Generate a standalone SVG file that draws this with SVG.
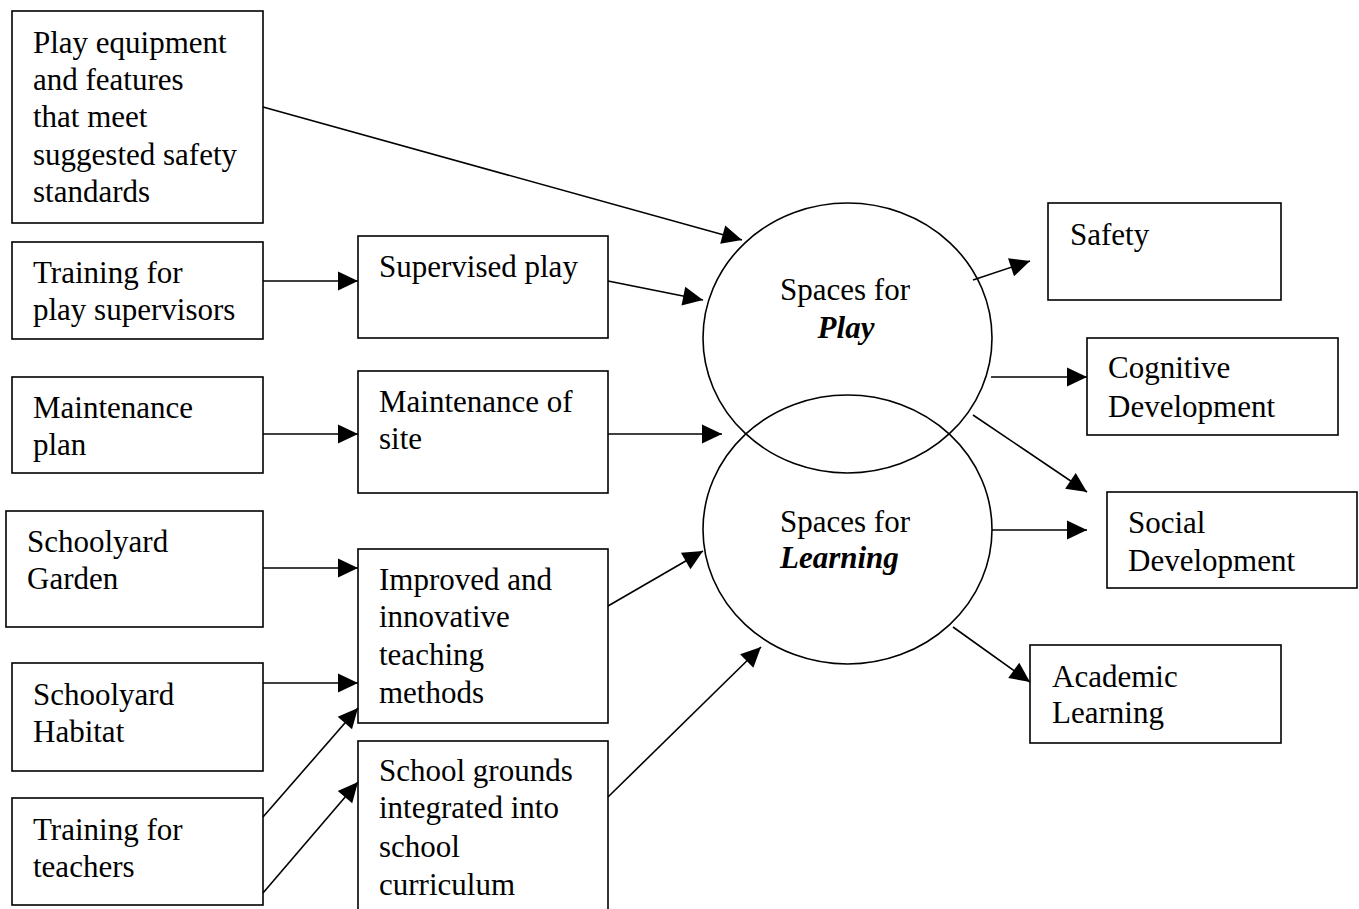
<svg xmlns="http://www.w3.org/2000/svg" width="1359" height="909" viewBox="0 0 1359 909">
<style>
.box{fill:#fff;stroke:#000;stroke-width:1.6}
.ell{fill:none;stroke:#000;stroke-width:1.6}
.t{font-family:"Liberation Serif","Times New Roman",serif;font-size:31px;fill:#000}
.bi{font-weight:bold;font-style:italic}
.c line{stroke:#000;stroke-width:1.6;marker-end:url(#ah)}
</style>
<defs>
<marker id="ah" markerUnits="userSpaceOnUse" markerWidth="22" markerHeight="20" refX="20" refY="9.5" orient="auto" overflow="visible">
<path d="M0,0 L20,9.5 L0,19 Z" fill="#000"/>
</marker>
</defs>
<rect width="1359" height="909" fill="#fff"/>

<g id="n-play-equipment"><rect class="box" x="12" y="11" width="251" height="212"/>
<text class="t" x="33" y="53">Play equipment</text>
<text class="t" x="33" y="90">and features</text>
<text class="t" x="33" y="127">that meet</text>
<text class="t" x="33" y="165">suggested safety</text>
<text class="t" x="33" y="202">standards</text></g>

<g id="n-training-supervisors"><rect class="box" x="12" y="242" width="251" height="97"/>
<text class="t" x="33" y="283">Training for</text>
<text class="t" x="33" y="320">play supervisors</text></g>

<g id="n-maintenance-plan"><rect class="box" x="12" y="377" width="251" height="96"/>
<text class="t" x="33" y="418">Maintenance</text>
<text class="t" x="33" y="455">plan</text></g>

<g id="n-garden"><rect class="box" x="6" y="511" width="257" height="116"/>
<text class="t" x="27" y="552">Schoolyard</text>
<text class="t" x="27" y="589">Garden</text></g>

<g id="n-habitat"><rect class="box" x="12" y="663" width="251" height="108"/>
<text class="t" x="33" y="705">Schoolyard</text>
<text class="t" x="33" y="742">Habitat</text></g>

<g id="n-training-teachers"><rect class="box" x="12" y="798" width="251" height="107"/>
<text class="t" x="33" y="840">Training for</text>
<text class="t" x="33" y="877">teachers</text></g>

<g id="n-supervised"><rect class="box" x="358" y="236" width="250" height="102"/>
<text class="t" x="379" y="277">Supervised play</text></g>

<g id="n-maintenance-site"><rect class="box" x="358" y="371" width="250" height="122"/>
<text class="t" x="379" y="412">Maintenance of</text>
<text class="t" x="379" y="449">site</text></g>

<g id="n-improved"><rect class="box" x="358" y="549" width="250" height="174"/>
<text class="t" x="379" y="590">Improved and</text>
<text class="t" x="379" y="627">innovative</text>
<text class="t" x="379" y="665">teaching</text>
<text class="t" x="379" y="703">methods</text></g>

<g id="n-school-grounds"><rect class="box" x="358" y="741" width="250" height="180"/>
<text class="t" x="379" y="781">School grounds</text>
<text class="t" x="379" y="818">integrated into</text>
<text class="t" x="379" y="857">school</text>
<text class="t" x="379" y="895">curriculum</text></g>

<g id="n-play"><ellipse class="ell" cx="847.5" cy="338" rx="144.5" ry="135"/>
<text class="t" x="780" y="300">Spaces for</text>
<text class="t bi" x="846" y="338" text-anchor="middle">Play</text></g>

<g id="n-learning"><ellipse class="ell" cx="847.5" cy="529.5" rx="144.5" ry="134.5"/>
<text class="t" x="780" y="532">Spaces for</text>
<text class="t bi" x="780" y="568">Learning</text></g>

<g id="n-safety"><rect class="box" x="1048" y="203" width="233" height="97"/>
<text class="t" x="1070" y="245">Safety</text></g>

<g id="n-cognitive"><rect class="box" x="1087" y="338" width="251" height="97"/>
<text class="t" x="1108" y="378">Cognitive</text>
<text class="t" x="1108" y="417">Development</text></g>

<g id="n-social"><rect class="box" x="1107" y="492" width="250" height="96"/>
<text class="t" x="1128" y="533">Social</text>
<text class="t" x="1128" y="571">Development</text></g>

<g id="n-academic"><rect class="box" x="1030" y="645" width="251" height="98"/>
<text class="t" x="1052" y="687">Academic</text>
<text class="t" x="1052" y="723">Learning</text></g>

<g id="connectors" class="c">
<line x1="263" y1="107" x2="742" y2="240"/>
<line x1="263" y1="281" x2="358" y2="281"/>
<line x1="608" y1="281" x2="703" y2="300"/>
<line x1="263" y1="434" x2="358" y2="434"/>
<line x1="608" y1="434" x2="722" y2="434"/>
<line x1="263" y1="568" x2="358" y2="568"/>
<line x1="263" y1="683" x2="358" y2="683"/>
<line x1="263" y1="817" x2="358" y2="708"/>
<line x1="263" y1="893" x2="358" y2="782"/>
<line x1="608" y1="606" x2="703" y2="551"/>
<line x1="608" y1="797" x2="761" y2="647"/>
<line x1="973" y1="280" x2="1030" y2="261"/>
<line x1="991" y1="377" x2="1087" y2="377"/>
<line x1="973" y1="415" x2="1087" y2="492"/>
<line x1="992" y1="530" x2="1087" y2="530"/>
<line x1="953" y1="627" x2="1030" y2="682"/>
</g>
</svg>
